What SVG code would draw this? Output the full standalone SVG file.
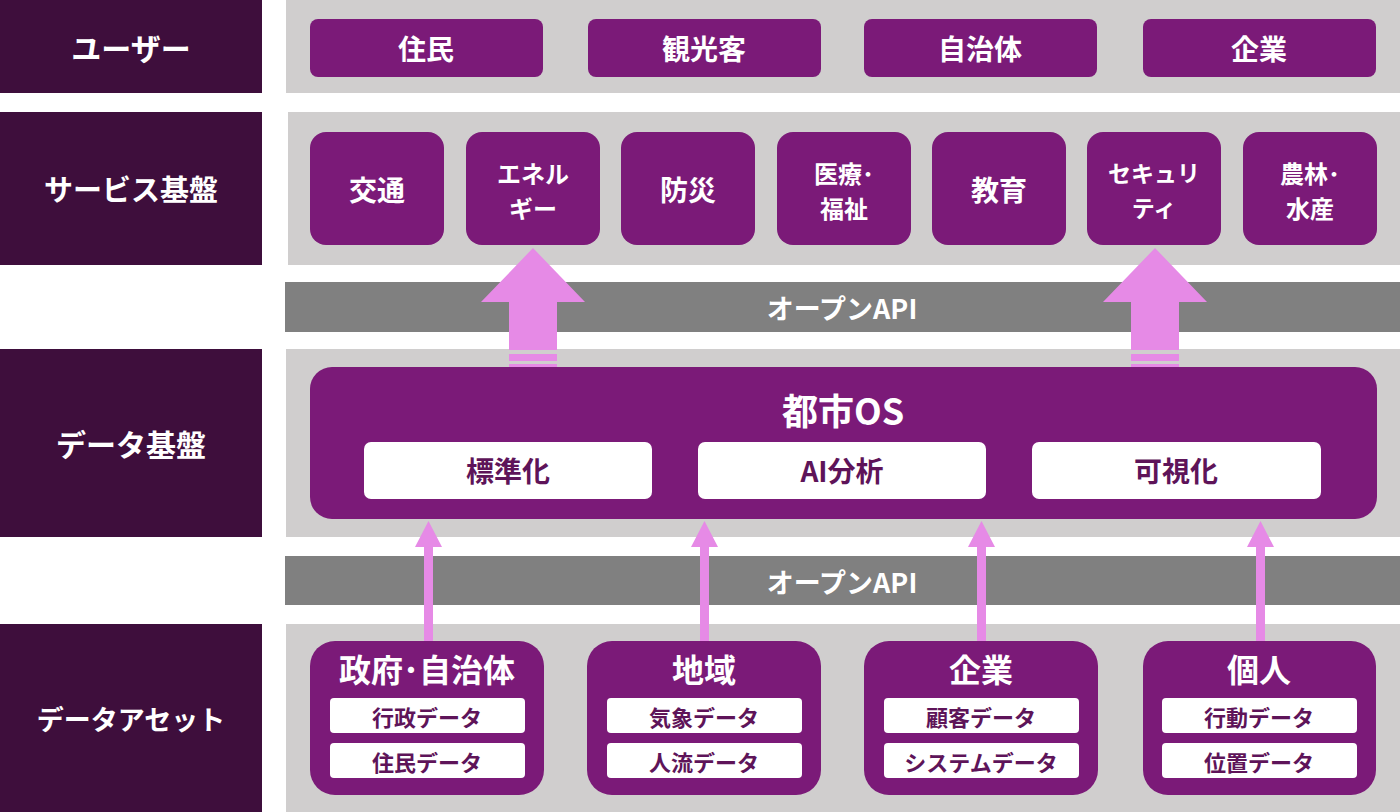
<svg xmlns="http://www.w3.org/2000/svg" width="1400" height="812" viewBox="0 0 1400 812">
<style>
text{font-family:"Noto Sans CJK JP","Noto Sans",sans-serif;font-weight:700;text-anchor:middle;dominant-baseline:central}
.lbl{fill:#3E0E3C}
.lt{fill:#fff;font-size:30px}
.bg{fill:#D0CECE}
.api{fill:#808080}
.at{fill:#fff;font-size:27px}
.p{fill:#7B1A78}
.wt{fill:#fff;font-size:28px}
.sk{fill:#fff;font-size:24px}
.wb{fill:#fff}
.dt{fill:#5E1459;font-size:28px}
.st{fill:#5E1459;font-size:22px}
.tt{fill:#fff;font-size:32px}
.arr{fill:#E68AE6}
</style>
<rect width="1400" height="812" fill="#fff"/>
<g id="layer-bg">
<rect class="bg" x="286" y="0" width="1114" height="93"/>
<rect class="bg" x="288" y="112" width="1112" height="153"/>
<rect class="bg" x="286" y="349" width="1114" height="188"/>
<rect class="bg" x="286" y="624" width="1114" height="188"/>
</g>
<g id="label-users"><rect class="lbl" x="0" y="0" width="262" height="93"/><text class="lt" x="131" y="47">ユーザー</text></g>
<g id="label-service"><rect class="lbl" x="0" y="112" width="262" height="153"/><text class="lt" x="131" y="188" style="font-size:29px">サービス基盤</text></g>
<g id="label-data"><rect class="lbl" x="0" y="349" width="262" height="188"/><text class="lt" x="131" y="443">データ基盤</text></g>
<g id="label-asset"><rect class="lbl" x="0" y="624" width="262" height="188"/><text class="lt" x="131" y="718" style="font-size:27px">データアセット</text></g>
<g id="api-1"><rect class="api" x="285" y="282" width="1115" height="50"/><text class="at" x="842" y="307">オープンAPI</text></g>
<g id="api-2"><rect class="api" x="285" y="556" width="1115" height="49"/><text class="at" x="842" y="581">オープンAPI</text></g>
<g id="user-1"><rect class="p" x="310" y="19" width="233" height="58" rx="8"/><text class="wt" x="426" y="48">住民</text></g>
<g id="user-2"><rect class="p" x="588" y="19" width="233" height="58" rx="8"/><text class="wt" x="704" y="48">観光客</text></g>
<g id="user-3"><rect class="p" x="864" y="19" width="233" height="58" rx="8"/><text class="wt" x="980" y="48">自治体</text></g>
<g id="user-4"><rect class="p" x="1143" y="19" width="233" height="58" rx="8"/><text class="wt" x="1259" y="48">企業</text></g>
<g id="svc-1"><rect class="p" x="310" y="132" width="134" height="113" rx="16"/><text class="wt" x="377" y="189">交通</text></g>
<g id="svc-2"><rect class="p" x="466" y="132" width="134" height="113" rx="16"/><text class="sk" x="533" y="172">エネル</text><text class="sk" x="533" y="207">ギー</text></g>
<g id="svc-3"><rect class="p" x="621" y="132" width="134" height="113" rx="16"/><text class="wt" x="688" y="189">防災</text></g>
<g id="svc-4"><rect class="p" x="777" y="132" width="134" height="113" rx="16"/><text class="sk" x="844" y="172">医療･</text><text class="sk" x="844" y="207">福祉</text></g>
<g id="svc-5"><rect class="p" x="932" y="132" width="134" height="113" rx="16"/><text class="wt" x="999" y="189">教育</text></g>
<g id="svc-6"><rect class="p" x="1087" y="132" width="134" height="113" rx="16"/><text class="sk" x="1154" y="172" style="font-size:23px">セキュリ</text><text class="sk" x="1154" y="207" style="font-size:23px">ティ</text></g>
<g id="svc-7"><rect class="p" x="1243" y="132" width="134" height="113" rx="16"/><text class="sk" x="1310" y="172">農林･</text><text class="sk" x="1310" y="207">水産</text></g>
<g id="connectors">
<path class="arr" d="M533,248 L585,302 L557,302 L557,350 L509,350 L509,302 L481,302 Z"/>
<rect class="arr" x="509" y="354" width="48" height="7"/>
<rect class="arr" x="509" y="364" width="48" height="4"/>
<path class="arr" d="M1155,248 L1207,302 L1179,302 L1179,350 L1131,350 L1131,302 L1103,302 Z"/>
<rect class="arr" x="1131" y="354" width="48" height="7"/>
<rect class="arr" x="1131" y="364" width="48" height="4"/>
<path class="arr" d="M428.5,521 L442,547 L433,547 L433,642 L424,642 L424,547 L415,547 Z"/>
<path class="arr" d="M704.5,521 L718,547 L709,547 L709,642 L700,642 L700,547 L691,547 Z"/>
<path class="arr" d="M981.5,521 L995,547 L986,547 L986,642 L977,642 L977,547 L968,547 Z"/>
<path class="arr" d="M1260.5,521 L1274,547 L1265,547 L1265,642 L1256,642 L1256,547 L1247,547 Z"/>
</g>
<g id="city-os">
<rect class="p" x="310" y="367" width="1067" height="152" rx="22"/>
<text class="wt" x="843" y="409" style="font-size:36px">都市OS</text>
<rect class="wb" x="364" y="442" width="288" height="57" rx="7"/><text class="dt" x="508" y="470">標準化</text>
<rect class="wb" x="698" y="442" width="288" height="57" rx="7"/><text class="dt" x="842" y="470">AI分析</text>
<rect class="wb" x="1032" y="442" width="289" height="57" rx="7"/><text class="dt" x="1176" y="470">可視化</text>
</g>
<g id="asset-1">
<rect class="p" x="310" y="641" width="234" height="154" rx="25"/>
<text class="tt" x="427" y="668">政府･自治体</text>
<rect class="wb" x="330" y="698" width="195" height="35" rx="4"/><text class="st" x="427" y="716">行政データ</text>
<rect class="wb" x="330" y="743" width="195" height="35" rx="4"/><text class="st" x="427" y="761">住民データ</text>
</g>
<g id="asset-2">
<rect class="p" x="587" y="641" width="234" height="154" rx="25"/>
<text class="tt" x="704" y="668">地域</text>
<rect class="wb" x="607" y="698" width="195" height="35" rx="4"/><text class="st" x="704" y="716">気象データ</text>
<rect class="wb" x="607" y="743" width="195" height="35" rx="4"/><text class="st" x="704" y="761">人流データ</text>
</g>
<g id="asset-3">
<rect class="p" x="864" y="641" width="234" height="154" rx="25"/>
<text class="tt" x="981" y="668">企業</text>
<rect class="wb" x="884" y="698" width="195" height="35" rx="4"/><text class="st" x="981" y="716">顧客データ</text>
<rect class="wb" x="884" y="743" width="195" height="35" rx="4"/><text class="st" x="981" y="761">システムデータ</text>
</g>
<g id="asset-4">
<rect class="p" x="1143" y="641" width="233" height="154" rx="25"/>
<text class="tt" x="1259" y="668">個人</text>
<rect class="wb" x="1162" y="698" width="195" height="35" rx="4"/><text class="st" x="1259" y="716">行動データ</text>
<rect class="wb" x="1162" y="743" width="195" height="35" rx="4"/><text class="st" x="1259" y="761">位置データ</text>
</g>
</svg>
